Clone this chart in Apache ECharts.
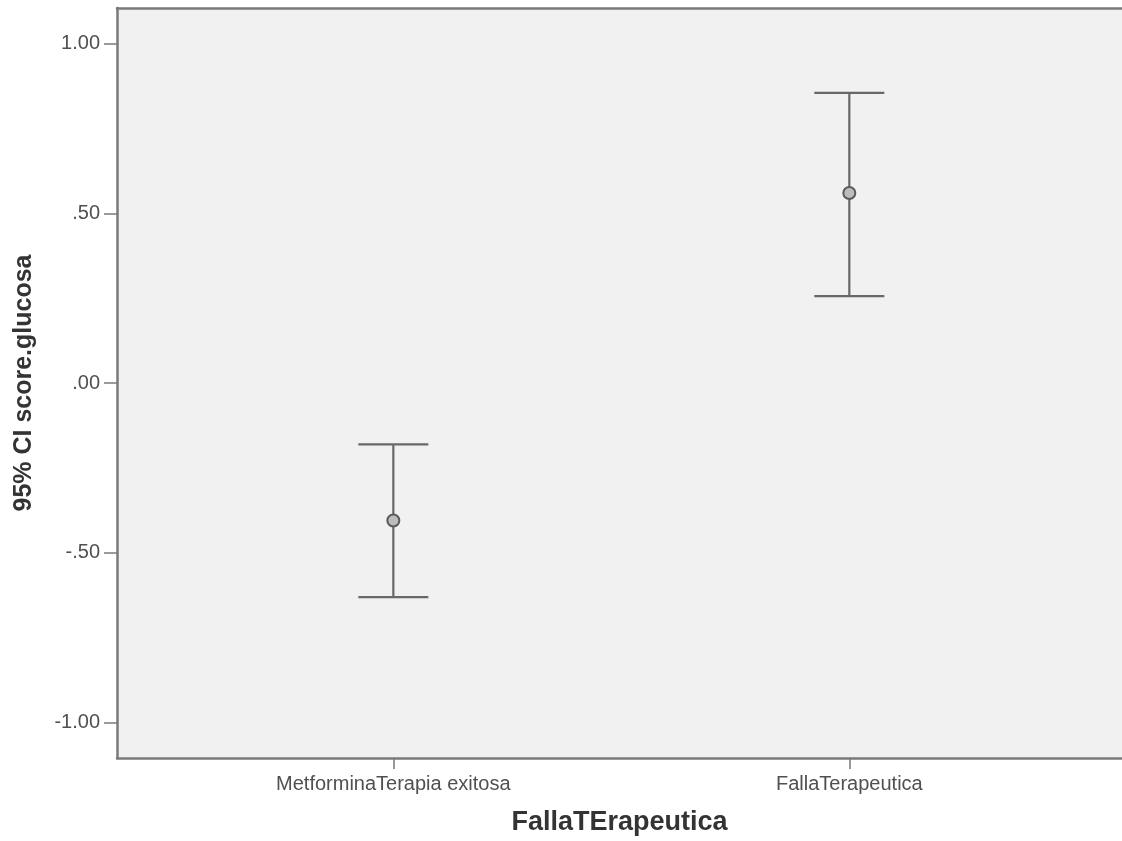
<!DOCTYPE html>
<html>
<head>
<meta charset="utf-8">
<style>
  html, body { margin: 0; padding: 0; background: #ffffff; }
  #chart { width: 1122px; height: 841px; }
</style>
<script src="https://cdn.jsdelivr.net/npm/echarts@6/dist/echarts.min.js"></script>
</head>
<body>
<div id="chart"></div>
<script>
// Groups and their 95% confidence intervals of score.glucosa
const categories = ['MetforminaTerapia exitosa', 'FallaTerapeutica'];
const means = [-0.405, 0.560];
const lowerCI = [-0.631, 0.256];
const upperCI = [-0.181, 0.855];
const yTickValues = [-1, -0.5, 0, 0.5, 1];

// SPSS-style number labels: drop the leading zero
function fmt(v) {
  const s = Math.abs(v).toFixed(2).replace(/^0\./, '.');
  return (v < 0 ? '-' : '') + s;
}

const ciData = categories.map((c, i) => [i, lowerCI[i], upperCI[i], means[i]]);

const chart = echarts.init(document.getElementById('chart'), null, { renderer: 'canvas' });
const axisColor = '#7a7a7a';
const lineColor = '#686868';
const textColor = '#505050';
const font = 'Liberation Sans';

chart.setOption({
  animation: false,
  backgroundColor: '#ffffff',
  grid: {
    left: 117, top: 8, right: 0, bottom: 83,
    show: true,
    backgroundColor: '#f1f1f1',
    borderWidth: 0
  },
  xAxis: [
    {
      type: 'value',
      position: 'bottom',
      min: -0.606,
      max: 1.598,
      name: 'FallaTErapeutica',
      nameLocation: 'middle',
      nameGap: 51,
      nameTextStyle: { fontFamily: font, fontWeight: 'bold', fontSize: 27, color: '#333333' },
      axisLine: { show: true, onZero: false, lineStyle: { color: axisColor, width: 2.5 } },
      axisTick: { show: true, customValues: [0, 1], length: 11, lineStyle: { color: axisColor, width: 1.5 } },
      axisLabel: {
        customValues: [0, 1],
        formatter: v => categories[Math.round(v)] || '',
        fontFamily: font, fontSize: 20, color: textColor, margin: 16
      },
      splitLine: { show: false }
    },
    {
      // frame line along the top of the plot
      type: 'value',
      position: 'top',
      min: -0.606,
      max: 1.598,
      axisLine: { show: true, onZero: false, lineStyle: { color: axisColor, width: 2.5 } },
      axisTick: { show: false },
      axisLabel: { show: false },
      splitLine: { show: false }
    }
  ],
  yAxis: {
    type: 'value',
    min: -1.105,
    max: 1.105,
    name: '95% CI score.glucosa',
    nameLocation: 'middle',
    nameGap: 80,
    nameRotate: 90,
    nameTextStyle: { fontFamily: font, fontWeight: 'bold', fontSize: 25, color: '#333333' },
    axisLine: { show: true, onZero: false, lineStyle: { color: axisColor, width: 2.5 } },
    axisTick: { show: true, customValues: yTickValues, length: 13, lineStyle: { color: axisColor, width: 1.5 } },
    axisLabel: {
      customValues: yTickValues,
      formatter: v => fmt(v),
      fontFamily: font, fontSize: 20, color: textColor, margin: 17
    },
    splitLine: { show: false }
  },
  series: [
    {
      type: 'custom',
      xAxisIndex: 0,
      data: ciData,
      encode: { x: 0, y: [1, 2] },
      renderItem: function (params, api) {
        const x = api.value(0);
        const lo = api.coord([x, api.value(1)]);
        const hi = api.coord([x, api.value(2)]);
        const mid = api.coord([x, api.value(3)]);
        const half = 35;
        const style = { stroke: lineColor, lineWidth: 2.2 };
        return {
          type: 'group',
          children: [
            { type: 'line', shape: { x1: hi[0], y1: hi[1], x2: lo[0], y2: lo[1] }, style: style },
            { type: 'line', shape: { x1: hi[0] - half, y1: hi[1], x2: hi[0] + half, y2: hi[1] }, style: style },
            { type: 'line', shape: { x1: lo[0] - half, y1: lo[1], x2: lo[0] + half, y2: lo[1] }, style: style },
            { type: 'circle', shape: { cx: mid[0], cy: mid[1], r: 6 }, style: { fill: '#bcbcbc', stroke: '#5a5a5a', lineWidth: 2 } }
          ]
        };
      }
    }
  ]
});
</script>
</body>
</html>
